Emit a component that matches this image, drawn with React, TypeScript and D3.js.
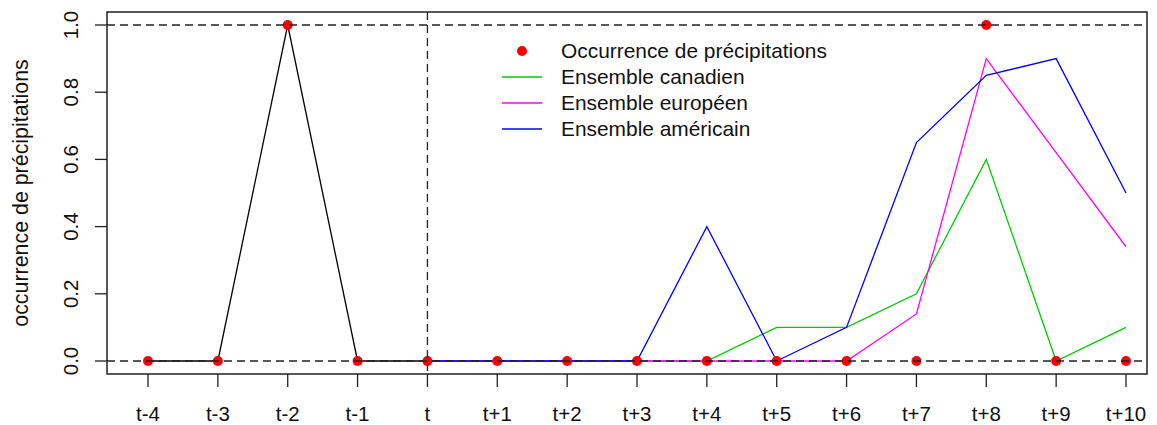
import React, { useEffect, useRef } from 'react';
import * as d3 from 'd3';

// tick labels along the time axis
const steps = ['t-4', 't-3', 't-2', 't-1', 't', 't+1', 't+2', 't+3', 't+4', 't+5', 't+6', 't+7', 't+8', 't+9', 't+10'];
// observed occurrence (red points), one per step
const occurrence = [0, 0, 1, 0, 0, 0, 0, 0, 0, 0, 0, 0, 1, 0, 0];
// forecasts start at "t"
const forecastSteps = ['t', 't+1', 't+2', 't+3', 't+4', 't+5', 't+6', 't+7', 't+8', 't+9', 't+10'];
const canadian = [0, 0, 0, 0, 0, 0.1, 0.1, 0.2, 0.6, 0, 0.1];
const european = [0, 0, 0, 0, 0, 0, 0, 0.14, 0.9, 0.62, 0.34];
const american = [0, 0, 0, 0, 0.4, 0, 0.1, 0.65, 0.85, 0.9, 0.5];
const yTicks = [0, 0.2, 0.4, 0.6, 0.8, 1.0];

const legendItems = [
    { label: 'Occurrence de précipitations', color: '#ff0000', kind: 'point' },
    { label: 'Ensemble canadien', color: '#00cd00', kind: 'line' },
    { label: 'Ensemble européen', color: '#ff00ff', kind: 'line' },
    { label: 'Ensemble américain', color: '#0000ff', kind: 'line' },
];

const W = 1157;
const H = 425;
const FONT = 'Liberation Sans, Arial, sans-serif';

export default function App() {
    const ref = useRef<SVGSVGElement>(null);

    useEffect(() => {
        const svg = d3.select(ref.current);
        svg.selectAll('*').remove();

        // plot region (box) and data mapping
        const box = { left: 107, right: 1147, top: 12, bottom: 374 };
        const x = d3.scalePoint<string>().domain(steps).range([148, 1126]);
        const y = d3.scaleLinear().domain([0, 1]).range([361, 25]);

        const g = svg.append('g');

        // observed series, t-4 .. t
        const obsIdx = steps.indexOf('t');
        const obs = steps.slice(0, obsIdx + 1).map((s, i) => ({ s, v: occurrence[i] }));
        const line = d3.line<{ s: string; v: number }>().x(d => x(d.s)!).y(d => y(d.v));

        g.append('path').datum(obs)
            .attr('fill', 'none').attr('stroke', '#000').attr('stroke-width', 1.3)
            .attr('d', line);

        const series = [
            { vals: canadian, color: '#00cd00' },
            { vals: european, color: '#ff00ff' },
            { vals: american, color: '#0000ff' },
        ];
        series.forEach(sr => {
            g.append('path')
                .datum(forecastSteps.map((s, i) => ({ s, v: sr.vals[i] })))
                .attr('fill', 'none').attr('stroke', sr.color).attr('stroke-width', 1.3)
                .attr('d', line);
        });

        // red points
        g.selectAll('circle.obs').data(steps.map((s, i) => ({ s, v: occurrence[i] })))
            .enter().append('circle')
            .attr('cx', d => x(d.s)!).attr('cy', d => y(d.v))
            .attr('r', 5).attr('fill', '#ff0000');

        // reference dashed lines
        [0, 1].forEach(v => {
            g.append('line')
                .attr('x1', box.left).attr('x2', box.right)
                .attr('y1', y(v)).attr('y2', y(v))
                .attr('stroke', '#222').attr('stroke-width', 1.3).attr('stroke-dasharray', '8,5');
        });
        g.append('line')
            .attr('x1', x('t')!).attr('x2', x('t')!)
            .attr('y1', box.top).attr('y2', box.bottom)
            .attr('stroke', '#222').attr('stroke-width', 1.3).attr('stroke-dasharray', '8,5');

        // box
        svg.append('rect')
            .attr('x', box.left).attr('y', box.top)
            .attr('width', box.right - box.left).attr('height', box.bottom - box.top)
            .attr('fill', 'none').attr('stroke', '#222').attr('stroke-width', 1.5);

        // x axis
        const xa = svg.append('g');
        steps.forEach(s => {
            xa.append('line')
                .attr('x1', x(s)!).attr('x2', x(s)!)
                .attr('y1', box.bottom).attr('y2', box.bottom + 13)
                .attr('stroke', '#222').attr('stroke-width', 1.3);
            xa.append('text')
                .attr('x', x(s)!).attr('y', 421)
                .attr('text-anchor', 'middle')
                .attr('font-family', FONT).attr('font-size', 20.5).attr('fill', '#111')
                .text(s);
        });

        // y axis
        const ya = svg.append('g');
        yTicks.forEach(v => {
            ya.append('line')
                .attr('x1', box.left - 12).attr('x2', box.left)
                .attr('y1', y(v)).attr('y2', y(v))
                .attr('stroke', '#222').attr('stroke-width', 1.3);
            ya.append('text')
                .attr('transform', `translate(78,${y(v)}) rotate(-90)`)
                .attr('text-anchor', 'middle')
                .attr('font-family', FONT).attr('font-size', 20.5).attr('fill', '#111')
                .text(d3.format('.1f')(v));
        });
        svg.append('text')
            .attr('transform', `translate(28,${(box.top + box.bottom) / 2}) rotate(-90)`)
            .attr('text-anchor', 'middle')
            .attr('font-family', FONT).attr('font-size', 21.4).attr('fill', '#111')
            .text('occurrence de précipitations');

        // legend
        const leg = svg.append('g')
            .selectAll('g').data(legendItems).enter().append('g')
            .attr('transform', (d, i) => `translate(0,${51 + i * 26})`);
        leg.filter(d => d.kind === 'point').append('circle')
            .attr('cx', 522).attr('cy', 0).attr('r', 5).attr('fill', d => d.color);
        leg.filter(d => d.kind === 'line').append('line')
            .attr('x1', 502).attr('x2', 542).attr('y1', 0).attr('y2', 0)
            .attr('stroke', d => d.color).attr('stroke-width', 1.3);
        leg.append('text')
            .attr('x', 561).attr('y', 0).attr('dy', '0.35em')
            .attr('font-family', FONT).attr('font-size', 20.9).attr('fill', '#111')
            .text(d => d.label);
    }, []);

    return (
        <svg ref={ref} width={W} height={H}
            style={{ position: 'absolute', left: 0, top: 0, background: '#fff', display: 'block' }} />
    );
}
